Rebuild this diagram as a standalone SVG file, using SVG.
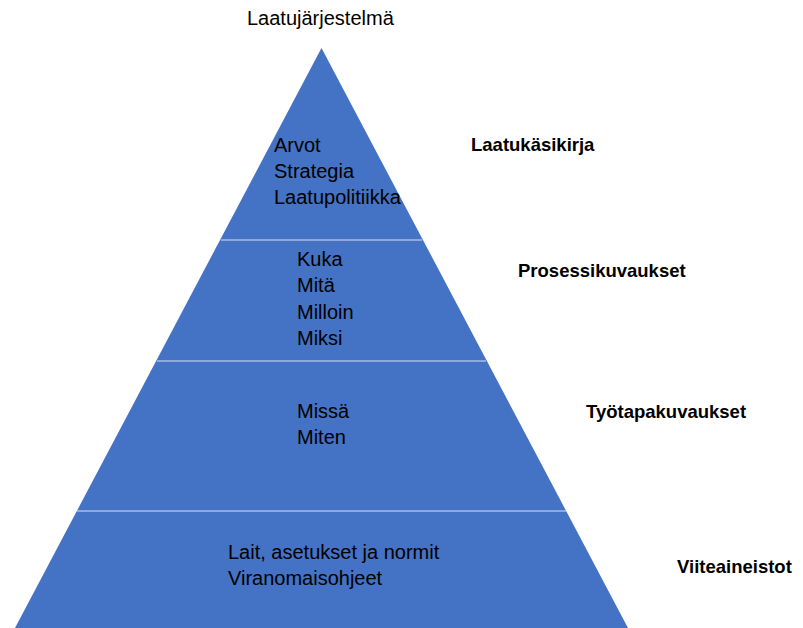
<svg xmlns="http://www.w3.org/2000/svg" width="803" height="628" viewBox="0 0 803 628">
<style>
.t{font-family:"Liberation Sans",Arial,sans-serif;font-size:20px;fill:#000}
.b{font-family:"Liberation Sans",Arial,sans-serif;font-size:18.5px;font-weight:bold;fill:#000}
.sep{stroke:#A8BDE6;stroke-width:1.5}
</style>
<rect width="803" height="628" fill="#fff"/>
<g id="pyramid">
<polygon points="321.5,48 628,628 15,628" fill="#4472C4"/>
</g>
<g id="connectors">
<line class="sep" x1="221" y1="240" x2="422" y2="240"/>
<line class="sep" x1="157" y1="361" x2="486" y2="361"/>
<line class="sep" x1="77" y1="511" x2="566" y2="511"/>
</g>
<g id="title"><text class="t" x="247" y="25">Laatujärjestelmä</text></g>
<g id="level1">
<text class="t" x="274" y="152">Arvot</text>
<text class="t" x="274" y="178">Strategia</text>
<text class="t" x="274" y="204">Laatupolitiikka</text>
<text class="b" x="471" y="151">Laatukäsikirja</text>
</g>
<g id="level2">
<text class="t" x="297" y="266">Kuka</text>
<text class="t" x="297" y="292">Mitä</text>
<text class="t" x="297" y="319">Milloin</text>
<text class="t" x="297" y="345">Miksi</text>
<text class="b" x="518" y="277">Prosessikuvaukset</text>
</g>
<g id="level3">
<text class="t" x="297" y="418">Missä</text>
<text class="t" x="297" y="444">Miten</text>
<text class="b" x="586" y="418">Työtapakuvaukset</text>
</g>
<g id="level4">
<text class="t" x="228" y="559">Lait, asetukset ja normit</text>
<text class="t" x="228" y="585">Viranomaisohjeet</text>
<text class="b" x="677" y="573">Viiteaineistot</text>
</g>
</svg>
